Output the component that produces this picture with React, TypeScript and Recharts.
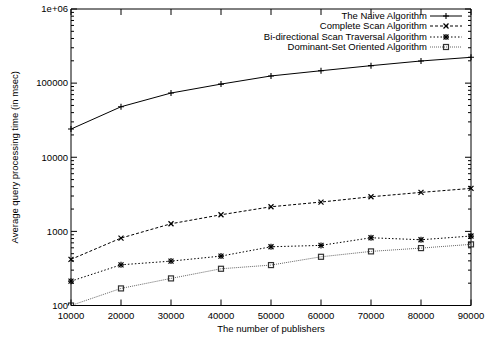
import { Line, LineChart, XAxis, YAxis } from "recharts";

// Average query processing time (msec) per number of publishers
const publishers = [10000, 20000, 30000, 40000, 50000, 60000, 70000, 80000, 90000];
const naive = [24000, 48000, 73500, 97000, 125000, 147000, 172000, 199000, 223000];
const completeScan = [419, 812, 1267, 1675, 2148, 2486, 2930, 3357, 3800];
const biDirectional = [213, 354, 397, 464, 620, 647, 820, 771, 865];
const dominantSet = [100, 170, 232, 313, 351, 454, 537, 595, 668];

const seriesNames = [
  "The Naive Algorithm",
  "Complete Scan Algorithm",
  "Bi-directional Scan Traversal Algorithm",
  "Dominant-Set Oriented Algorithm",
];
const seriesKeys = ["naive", "complete", "bidir", "dominant"];
const seriesColors = ["#000", "#000", "#000", "#666"];
const seriesDashes = ["", "3 2", "1.5 2", "1 1"];
const seriesMarkers = ["plus", "cross", "star", "square"];

const xTicks = [10000, 20000, 30000, 40000, 50000, 60000, 70000, 80000, 90000];
const yMajorTicks = [100, 1000, 10000, 100000, 1000000];
const yMinorTicks = yMajorTicks.slice(0, -1).flatMap((d) => [2, 3, 4, 5, 6, 7, 8, 9].map((m) => d * m));
const yTicks = [...yMajorTicks, ...yMinorTicks];

const data = publishers.map((p, i) => ({
  publishers: p,
  naive: naive[i],
  complete: completeScan[i],
  bidir: biDirectional[i],
  dominant: dominantSet[i],
}));

const FONT = "'Liberation Sans', Arial, sans-serif";
const FS = 9.5;

const fmtY = (v: number) => (v >= 1000000 ? "1e+06" : String(v));

function Marker({ kind, cx, cy, color }: { kind: string; cx: number; cy: number; color: string }) {
  const s = 3;
  if (kind === "plus")
    return (
      <g stroke={color} strokeWidth={1.1}>
        <line x1={cx - s} x2={cx + s} y1={cy} y2={cy} />
        <line x1={cx} x2={cx} y1={cy - s} y2={cy + s} />
      </g>
    );
  if (kind === "cross")
    return (
      <g stroke={color} strokeWidth={1.2}>
        <line x1={cx - 2.5} x2={cx + 2.5} y1={cy - 2.5} y2={cy + 2.5} />
        <line x1={cx - 2.5} x2={cx + 2.5} y1={cy + 2.5} y2={cy - 2.5} />
      </g>
    );
  if (kind === "star")
    return (
      <g stroke={color} strokeWidth={1.2}>
        <line x1={cx - 2.5} x2={cx + 2.5} y1={cy - 2.5} y2={cy + 2.5} />
        <line x1={cx - 2.5} x2={cx + 2.5} y1={cy + 2.5} y2={cy - 2.5} />
        <line x1={cx - s} x2={cx + s} y1={cy} y2={cy} />
        <line x1={cx} x2={cx} y1={cy - s} y2={cy + s} />
      </g>
    );
  return <rect x={cx - 2.5} y={cy - 2.5} width={5} height={5} fill="none" stroke="#333" strokeWidth={1.2} />;
}

const LeftTick = (props: any) => {
  const { x, y, payload } = props;
  const major = yMajorTicks.includes(payload.value);
  return (
    <g>
      <line x1={x} x2={x + (major ? 6 : 3)} y1={y} y2={y} stroke="#000" />
      {major && (
        <text x={x - 3} y={y} dy="0.35em" textAnchor="end" fontSize={FS} fontFamily={FONT} fill="#000">
          {fmtY(payload.value)}
        </text>
      )}
    </g>
  );
};

const RightTick = (props: any) => {
  const { x, y, payload } = props;
  const major = yMajorTicks.includes(payload.value);
  return <line x1={x} x2={x - (major ? 6 : 3)} y1={y} y2={y} stroke="#000" />;
};

const BottomTick = (props: any) => {
  const { x, y, payload } = props;
  return (
    <g>
      <line x1={x} x2={x} y1={y} y2={y - 6} stroke="#000" />
      <text x={x} y={y + 10} dy="0.35em" textAnchor="middle" fontSize={FS} fontFamily={FONT} fill="#000">
        {payload.value}
      </text>
    </g>
  );
};

const TopTick = (props: any) => {
  const { x, y } = props;
  return <line x1={x} x2={x} y1={y} y2={y + 6} stroke="#000" />;
};

export default function App() {
  return (
    <div style={{ position: "absolute", left: 0, top: 0, width: 487, height: 337, background: "#fff" }}>
      <LineChart width={487} height={337} data={data} margin={{ top: 0, right: 0, bottom: 0, left: 0 }}>
        <XAxis
          xAxisId="bottom"
          dataKey="publishers"
          type="number"
          domain={[10000, 90000]}
          ticks={xTicks}
          interval={0}
          height={31.5}
          tickSize={0}
          tickMargin={0}
          tickLine={false}
          tick={BottomTick}
          axisLine={{ stroke: "#000" }}
          label={{
            content: ({ viewBox }: any) => (
              <text
                x={viewBox.x + viewBox.width / 2}
                y={viewBox.y + 23.5}
                dy="0.35em"
                textAnchor="middle"
                fontSize={FS}
                fontFamily={FONT}
                fill="#000"
              >
                The number of publishers
              </text>
            ),
          }}
        />
        <XAxis
          xAxisId="top"
          orientation="top"
          dataKey="publishers"
          type="number"
          domain={[10000, 90000]}
          ticks={xTicks}
          interval={0}
          height={9}
          tickSize={0}
          tickMargin={0}
          tickLine={false}
          tick={TopTick}
          axisLine={{ stroke: "#000" }}
        />
        <YAxis
          yAxisId="left"
          type="number"
          scale="log"
          domain={[100, 1000000]}
          allowDataOverflow
          ticks={yTicks}
          interval={0}
          width={71}
          tickSize={0}
          tickMargin={0}
          tickLine={false}
          tick={LeftTick}
          axisLine={{ stroke: "#000" }}
          label={{
            content: ({ viewBox }: any) => {
              const cx = viewBox.x + 15;
              const cy = viewBox.y + viewBox.height / 2;
              return (
                <text
                  x={cx}
                  y={cy}
                  dy="0.35em"
                  textAnchor="middle"
                  transform={`rotate(-90, ${cx}, ${cy})`}
                  fontSize={FS}
                  fontFamily={FONT}
                  fill="#000"
                >
                  Average query processing time (in msec)
                </text>
              );
            },
          }}
        />
        <YAxis
          yAxisId="right"
          orientation="right"
          type="number"
          scale="log"
          domain={[100, 1000000]}
          allowDataOverflow
          ticks={yTicks}
          interval={0}
          width={16}
          tickSize={0}
          tickMargin={0}
          tickLine={false}
          tick={RightTick}
          axisLine={{ stroke: "#000" }}
        />
        {seriesKeys.map((k, i) => (
          <Line
            key={k}
            xAxisId="bottom"
            yAxisId="left"
            dataKey={k}
            name={seriesNames[i]}
            type="linear"
            stroke={seriesColors[i]}
            strokeWidth={1}
            strokeDasharray={seriesDashes[i] || undefined}
            isAnimationActive={false}
            dot={(p: any) => (
              <Marker key={`${k}-${p.index}`} kind={seriesMarkers[i]} cx={p.cx} cy={p.cy} color={seriesColors[i] === "#666" ? "#333" : "#000"} />
            )}
            activeDot={false}
          />
        ))}
      </LineChart>
      <div style={{ position: "absolute", top: 10.5, right: 24, fontFamily: FONT, fontSize: FS, color: "#000" }}>
        {seriesNames.map((n, i) => (
          <div key={n} style={{ display: "flex", alignItems: "center", justifyContent: "flex-end", height: 10.5, lineHeight: "10.5px" }}>
            <span style={{ whiteSpace: "nowrap" }}>{n}</span>
            <svg width={34} height={10} style={{ marginLeft: 2 }}>
              <line
                x1={1}
                x2={33}
                y1={5}
                y2={5}
                stroke={seriesColors[i]}
                strokeWidth={1}
                strokeDasharray={seriesDashes[i] || undefined}
              />
              <Marker kind={seriesMarkers[i]} cx={17} cy={5} color={seriesColors[i] === "#666" ? "#333" : "#000"} />
            </svg>
          </div>
        ))}
      </div>
    </div>
  );
}
